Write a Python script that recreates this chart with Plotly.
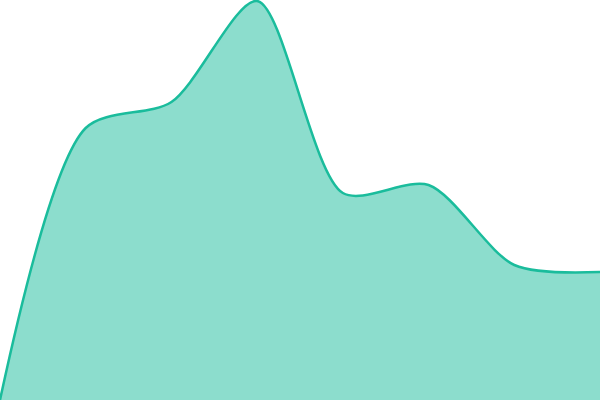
import plotly.graph_objects as go

# sample positions and values
points = [0, 1, 2, 3, 4, 5, 6, 7]
values = [0, 272, 298, 399, 207, 215, 135, 128]

fig = go.Figure()

fig.add_trace(go.Scatter(
  x=points, y=values,
  mode="lines",
  line=dict(color="#1abc9c", width=2.5, shape="spline", smoothing=0.8),
  fill="tozeroy",
  fillcolor="rgba(26,188,156,0.5)",
  hoverinfo="skip",
))

fig.update_layout(
  width=600, height=400,
  margin=dict(l=0, r=0, t=0, b=0),
  paper_bgcolor="white", plot_bgcolor="white",
  showlegend=False,
)
fig.update_xaxes(visible=False, range=[0, 7])
fig.update_yaxes(visible=False, range=[0, 400])

# drop the page's default body margin so the chart sits at 0,0
fig.write_html("out.html", config={"displayModeBar": False},
               post_script="document.body.style.margin='0';")
